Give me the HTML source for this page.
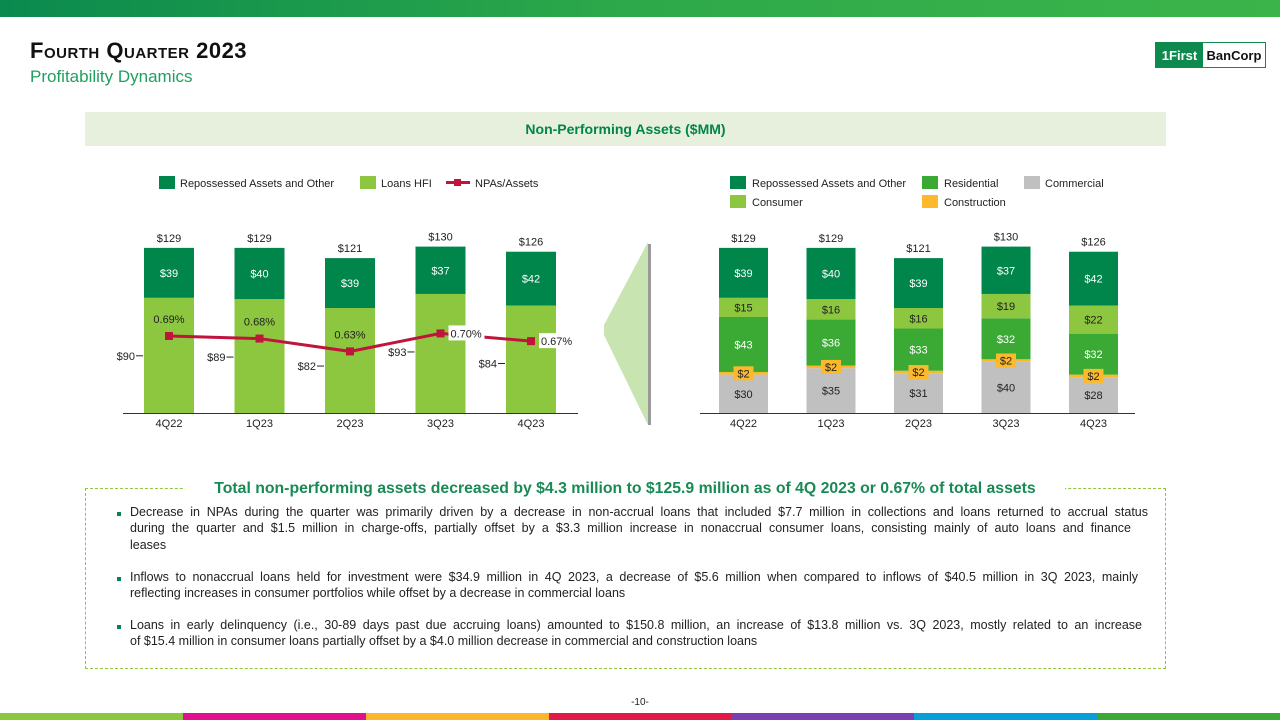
<!DOCTYPE html>
<html><head><meta charset="utf-8">
<style>
*{margin:0;padding:0;box-sizing:border-box}
body{width:1280px;height:720px;position:relative;background:#fff;font-family:"Liberation Sans",sans-serif;overflow:hidden}
.abs{position:absolute}
.line{position:absolute;left:130px;width:1018px;font-size:12.5px;color:#222;white-space:nowrap}
.just{text-align:justify;text-align-last:justify}
.bul{position:absolute;left:117px;width:4px;height:4px;background:#00854a}
</style></head><body>
<div class="abs" style="left:0;top:0;width:1280px;height:17px;background:linear-gradient(90deg,#0a8a4e 0%,#2ea94a 50%,#3bb54a 100%)"></div>
<div class="abs" style="left:30px;top:38px;font-size:22px;font-weight:bold;color:#111;font-variant:small-caps;letter-spacing:0.5px">Fourth Quarter 2023</div>
<div class="abs" style="left:30px;top:67px;font-size:17px;color:#1fa060">Profitability Dynamics</div>
<div class="abs" style="left:1155px;top:42px;width:111px;height:26px;border:1.5px solid #0f8a4f;display:flex;font-weight:bold;font-size:13px">
 <div style="background:#0f8a4f;color:#fff;width:47px;display:flex;align-items:center;justify-content:center">1First</div>
 <div style="flex:1;display:flex;align-items:center;justify-content:center;color:#111">BanCorp</div>
</div>
<div class="abs" style="left:85px;top:112px;width:1081px;height:34px;background:#e6f0dc;color:#00854a;font-weight:bold;font-size:14px;text-align:center;line-height:34px">Non-Performing Assets ($MM)</div>

<svg class="abs" style="left:0;top:0" width="1280" height="470" font-family="Liberation Sans, sans-serif">
 <g id="legL" font-size="11" fill="#222">
  <rect x="159" y="176" width="16" height="13" fill="#00854a"/>
  <text x="180" y="187">Repossessed Assets and Other</text>
  <rect x="360" y="176" width="16" height="13" fill="#8dc63f"/>
  <text x="381" y="187">Loans HFI</text>
  <line x1="446" y1="182.5" x2="470" y2="182.5" stroke="#c0143c" stroke-width="3"/>
  <rect x="454" y="179" width="7" height="7" fill="#c0143c"/>
  <text x="475" y="187">NPAs/Assets</text>
 </g>
 <g font-size="11" fill="#222">
  <rect x="730" y="176" width="16" height="13" fill="#00854a"/>
  <text x="752" y="187">Repossessed Assets and Other</text>
  <rect x="922" y="176" width="16" height="13" fill="#3aaa35"/>
  <text x="944" y="187">Residential</text>
  <rect x="1024" y="176" width="16" height="13" fill="#c0c0c0"/>
  <text x="1045" y="187">Commercial</text>
  <rect x="730" y="195" width="16" height="13" fill="#8dc63f"/>
  <text x="752" y="206">Consumer</text>
  <rect x="922" y="195" width="16" height="13" fill="#fbb92b"/>
  <text x="944" y="206">Construction</text>
 </g>
 <g id="left"></g>
 <g id="right"></g>
 <g id="rightLabels"></g>
 <polygon points="648,242 604,325 604,335 648,425" fill="#c8e4b0"/>
 <rect x="648" y="244" width="3" height="181" fill="#9a9a9a"/>
</svg>

<div class="abs" style="left:85px;top:488px;width:1081px;height:181px;border:1px dashed #8dc63f"></div>
<div class="abs" style="left:185px;top:480px;width:880px;background:#fff;text-align:center;font-weight:bold;font-size:15.8px;color:#1a8a55;white-space:nowrap">Total non-performing assets decreased by $4.3 million to $125.9 million as of 4Q 2023 or 0.67% of total assets</div>
<div class="bul" style="top:512px"></div>
<div class="line just" style="top:505px">Decrease in NPAs during the quarter was primarily driven by a decrease in non-accrual loans that included $7.7 million in collections and loans returned to accrual status</div>
<div class="line" style="top:521px;width:1001px;text-align:justify;text-align-last:justify">during the quarter and $1.5 million in charge-offs, partially offset by a $3.3 million increase in nonaccrual consumer loans, consisting mainly of auto loans and finance</div>
<div class="line" style="top:538px">leases</div>
<div class="bul" style="top:577px"></div>
<div class="line" style="top:570px;width:1008px;text-align:justify;text-align-last:justify">Inflows to nonaccrual loans held for investment were $34.9 million in 4Q 2023, a decrease of $5.6 million when compared to inflows of $40.5 million in 3Q 2023, mainly</div>
<div class="line" style="top:586px">reflecting increases in consumer portfolios while offset by a decrease in commercial loans</div>
<div class="bul" style="top:625px"></div>
<div class="line" style="top:618px;width:1012px;text-align:justify;text-align-last:justify">Loans in early delinquency (i.e., 30-89 days past due accruing loans) amounted to $150.8 million, an increase of $13.8 million vs. 3Q 2023, mostly related to an increase</div>
<div class="line" style="top:634px">of $15.4 million in consumer loans partially offset by a $4.0 million decrease in commercial and construction loans</div>

<div class="abs" style="left:620px;top:697px;width:40px;text-align:center;font-size:10px;color:#222">-10-</div>
<div class="abs" style="left:0;top:713px;width:1280px;height:7px;display:flex">
 <div style="flex:1;background:#8dc63f"></div><div style="flex:1;background:#e3108c"></div><div style="flex:1;background:#fbb72c"></div><div style="flex:1;background:#e11a48"></div><div style="flex:1;background:#7a3fb2"></div><div style="flex:1;background:#069fd9"></div><div style="flex:1;background:#3aaa35"></div>
</div>

<script>
const quarters=["4Q22","1Q23","2Q23","3Q23","4Q23"];
const loansHFI=[90,89,82,93,84];
const repossessed=[39,40,39,37,42];
const totals=[129,129,121,130,126];
const npaPct=[0.69,0.68,0.63,0.70,0.67];
const commercial=[30,35,31,40,28];
const construction=[2,2,2,2,2];
const residential=[43,36,33,32,32];
const consumer=[15,16,16,19,22];

const NS="http://www.w3.org/2000/svg";
const BASE=413, PX=1.28;
const yv=v=>BASE-v*PX;
const yp=p=>336-(p-0.69)*257;
function el(tag,attrs,parent,txt){const e=document.createElementNS(NS,tag);for(const k in attrs)e.setAttribute(k,attrs[k]);if(txt!==undefined)e.textContent=txt;parent.appendChild(e);return e;}

// Left chart
const L=document.getElementById('left');
const lx=i=>169+i*90.5;
const ax=el('line',{x1:123,y1:BASE+0.5,x2:578,y2:BASE+0.5,stroke:'#333','stroke-width':1},L);


quarters.forEach((q,i)=>{
 const cx=lx(i);
 const b1=el('rect',{x:cx-25,y:yv(loansHFI[i]),width:50,height:loansHFI[i]*PX,fill:'#8dc63f'},L);
 
 
 const b2=el('rect',{x:cx-25,y:yv(totals[i]),width:50,height:repossessed[i]*PX,fill:'#00854a'},L);
 
 
 el('text',{x:cx,y:(yv(totals[i])+yv(loansHFI[i]))/2+4,fill:'#fff','font-size':11,'text-anchor':'middle'},L,'$'+repossessed[i]);
 el('text',{x:cx,y:yv(totals[i])-6,fill:'#222','font-size':11,'text-anchor':'middle'},L,'$'+totals[i]);
 const ly=yv(loansHFI[i])+62;
 el('text',{x:cx-34,y:ly,fill:'#222','font-size':11,'text-anchor':'end'},L,'$'+loansHFI[i]);
 el('line',{x1:cx-33,y1:ly-4,x2:cx-26,y2:ly-4,stroke:'#222'},L);
 const t=el('text',{x:cx,y:BASE+14,fill:'#222','font-size':11,'text-anchor':'middle'},L,q);
 
 
});
const pts=npaPct.map((p,i)=>lx(i)+','+yp(p)).join(' ');
const pl=el('polyline',{points:pts,fill:'none',stroke:'#c0143c','stroke-width':3},L);


npaPct.forEach((p,i)=>{
 const cx=lx(i),cy=yp(p);
 const m=el('rect',{x:cx-4,y:cy-4,width:8,height:8,fill:'#c0143c'},L);
 
 
 const lab=p.toFixed(2)+'%';
 if(i>=3){
  el('rect',{x:cx+8,y:cy-8,width:36,height:15,fill:'#fff'},L);
  el('text',{x:cx+10,y:cy+4,fill:'#222','font-size':11},L,lab);
 } else {
  el('text',{x:cx,y:cy-13,fill:'#222','font-size':11,'text-anchor':'middle'},L,lab);
 }
});

// Right chart
const R=document.getElementById('right');
const RL=document.getElementById('rightLabels');
const rx=i=>743.5+i*87.5;
const ax2=el('line',{x1:700,y1:BASE+0.5,x2:1135,y2:BASE+0.5,stroke:'#333'},R);


const series=[["commercial",commercial,'#c0c0c0','#222'],["construction",construction,'#fbb92b','#222'],["residential",residential,'#3aaa35','#fff'],["consumer",consumer,'#8dc63f','#222'],["repossessed",repossessed,'#00854a','#fff']];
quarters.forEach((q,i)=>{
 const cx=rx(i);let acc=0;
 series.forEach(([nm,arr,col,tc])=>{
  const v=arr[i];
  const r=el('rect',{x:cx-24.5,y:yv(acc+v),width:49,height:v*PX,fill:col},R);
  
  
  const mid=yv(acc+v/2);
  if(nm==='construction'){
   el('rect',{x:cx-10,y:mid-7,width:20,height:14,fill:'#fbb92b'},RL);
  }
  el('text',{x:cx,y:mid+4,fill:tc,'font-size':11,'text-anchor':'middle'},RL,'$'+v);
  acc+=v;
 });
 el('text',{x:cx,y:yv(totals[i])-6,fill:'#222','font-size':11,'text-anchor':'middle'},R,'$'+totals[i]);
 const t=el('text',{x:cx,y:BASE+14,fill:'#222','font-size':11,'text-anchor':'middle'},R,q);
 
 
});
</script>
</body></html>
